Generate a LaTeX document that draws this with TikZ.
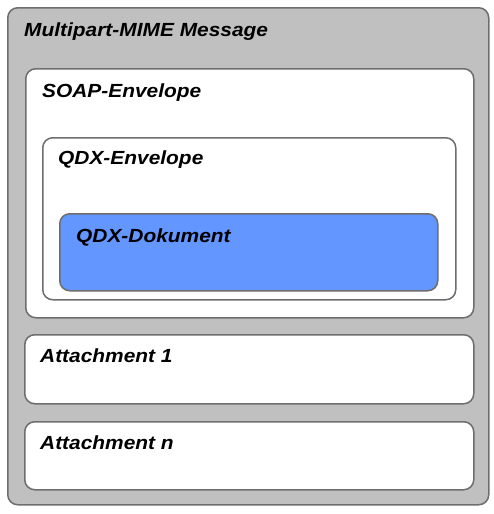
\documentclass[tikz,border=0pt]{standalone}
\usepackage{fontspec}
\setmainfont{Liberation Sans}
\newfontfamily\boxfont{Liberation Sans}[FakeStretch=1.1]
\usepackage{xcolor}
\definecolor{mimegray}{RGB}{192,192,192}
\definecolor{docblue}{RGB}{100,150,255}
\definecolor{edgegray}{RGB}{110,110,110}

\begin{document}
\begin{tikzpicture}[x=1pt,y=-1pt,
  part box/.style={draw=edgegray,line width=1.5pt,rounded corners=10pt,fill=white,anchor=north west,inner sep=0pt},
  part name/.style={anchor=base west,inner sep=0pt,font=\boxfont\bfseries\itshape\fontsize{19}{22}\selectfont}]
  \useasboundingbox (0,0) rectangle (493,514);

  \node[part box,fill=mimegray,minimum width=481pt,minimum height=497pt] (mime) at (7,7) {};
  \node[part box,minimum width=448pt,minimum height=249pt] (soap) at (25,68) {};
  \node[part box,minimum width=413pt,minimum height=162pt] (qdxenv) at (42,137) {};
  \node[part box,fill=docblue,minimum width=378pt,minimum height=77pt] (qdxdoc) at (59,213) {};
  \node[part box,minimum width=449pt,minimum height=69pt] (att1) at (24,334) {};
  \node[part box,minimum width=449pt,minimum height=68pt] (attn) at (24,421) {};

  % labels
  \node[part name] (mimelabel) at ([shift={(17,29)}]mime.north west) {Multipart-MIME Message};
  \node[part name] (soaplabel) at ([shift={(17,29)}]soap.north west) {SOAP-Envelope};
  \node[part name] (qdxenvlabel) at ([shift={(16,27)}]qdxenv.north west) {QDX-Envelope};
  \node[part name] (qdxdoclabel) at ([shift={(17,29)}]qdxdoc.north west) {QDX-Dokument};
  \node[part name] (att1label) at ([shift={(16,28)}]att1.north west) {Attachment 1};
  \node[part name] (attnlabel) at ([shift={(16,28)}]attn.north west) {Attachment n};
\end{tikzpicture}
\end{document}
